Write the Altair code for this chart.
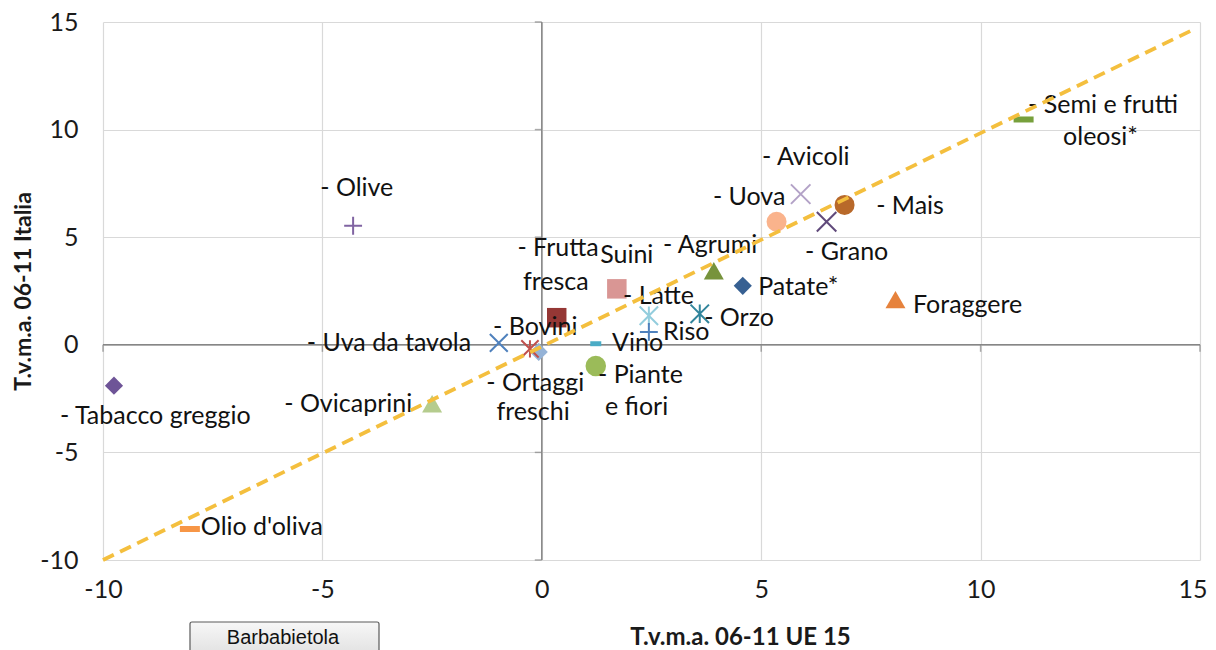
import altair as alt
import pandas as pd

# ---- data ----
categories = ["Tabacco greggio", "Olio d'oliva", "Olive", "Ovicaprini", "Uva da tavola",
              "Bovini", "Ortaggi freschi", "Frutta fresca", "Suini", "Latte", "Riso",
              "Vino", "Piante e fiori", "Agrumi", "Orzo", "Patate*", "Uova", "Avicoli",
              "Grano", "Mais", "Foraggere", "Semi e frutti oleosi*"]
ue15 = [-9.75, -8.02, -4.30, -2.50, -0.98, -0.27, -0.07, 0.34, 1.71, 2.44, 2.44,
        1.23, 1.23, 3.92, 3.60, 4.58, 5.35, 5.90, 6.49, 6.90, 8.06, 10.98]
italia = [-1.90, -8.56, 5.53, -2.74, 0.09, -0.19, -0.33, 1.26, 2.60, 1.35, 0.60,
          0.05, -0.98, 3.44, 1.44, 2.74, 5.72, 7.00, 5.72, 6.50, 2.10, 10.47]

# data labels (one entry per text line), anchored in data units
label_text = ["- Tabacco greggio", "Olio d'oliva", "- Olive", "- Ovicaprini", "- Uva da tavola",
              "- Bovini", "- Ortaggi", "freschi", "- Frutta", "fresca", "Suini", "- Latte",
              "Riso", "Vino", "- Piante", "e fiori", "- Agrumi", "- Orzo", "Patate*",
              "- Uova", "- Avicoli", "- Grano", "- Mais", "Foraggere", "- Semi e frutti", "oleosi*"]
label_x = [-10.98, -7.77, -5.05, -5.87, -1.61, -1.11, -0.15, -0.20, 0.37, 0.32, 1.33, 1.85,
           2.76, 1.60, 1.28, 1.44, 2.76, 3.70, 4.93, 3.90, 5.02, 6.00, 7.62, 8.46, 14.50, 11.88]
label_y = [-3.31, -8.47, 7.29, -2.75, 0.08, 0.83, -1.78, -3.12, 4.50, 2.92, 4.17, 2.27,
           0.59, 0.08, -1.40, -2.89, 4.64, 1.25, 2.69, 6.87, 8.73, 4.31, 6.45, 1.85, 11.14, 9.66]
label_align = ["left", "left", "left", "left", "right", "left", "center", "center", "center",
               "center", "left", "left", "left", "left", "left", "left", "left", "left", "left",
               "left", "left", "left", "left", "left", "right", "left"]

# dashed diagonal (trend) line ends
trend_x = [-10.0, 14.9]
trend_y = [-10.0, 14.7]

axis_ticks = [-10, -5, 0, 5, 10, 15]

# ---- marker styles (Excel-like markers) ----
X_PATH = "M-1,-1L1,1M-1,1L1,-1"
PLUS_PATH = "M-1,0L1,0M0,-1L0,1"
STAR_PATH = "M-1,-1L1,1M-1,1L1,-1M0,-1L0,1"
DASH_PATH = "M-1,-0.3L1,-0.3L1,0.3L-1,0.3Z"
SMALL_DASH_PATH = "M-1,-0.45L1,-0.45L1,0.45L-1,0.45Z"

styles = {
    "Tabacco greggio": ("diamond", "#6E5497", True, 330),
    "Olio d'oliva": (DASH_PATH, "#F79646", True, 400),
    "Olive": (PLUS_PATH, "#8064A2", False, 320),
    "Ovicaprini": ("triangle-up", "#B5CC8E", True, 400),
    "Uva da tavola": (X_PATH, "#4F81BD", False, 320),
    "Bovini": (STAR_PATH, "#C0504D", False, 300),
    "Ortaggi freschi": ("diamond", "#95B3D7", True, 330),
    "Frutta fresca": ("square", "#953735", True, 380),
    "Suini": ("square", "#D99694", True, 380),
    "Latte": (STAR_PATH, "#93CDDD", False, 340),
    "Riso": (PLUS_PATH, "#4F81BD", False, 320),
    "Vino": (SMALL_DASH_PATH, "#4BACC6", True, 121),
    "Piante e fiori": ("circle", "#9BBB59", True, 420),
    "Agrumi": ("triangle-up", "#77933C", True, 400),
    "Orzo": (STAR_PATH, "#31859C", False, 340),
    "Patate*": ("diamond", "#376092", True, 330),
    "Uova": ("circle", "#FAB38C", True, 400),
    "Avicoli": (X_PATH, "#B3A2C7", False, 380),
    "Grano": (X_PATH, "#604A7B", False, 380),
    "Mais": ("circle", "#B8692A", True, 400),
    "Foraggere": ("triangle-up", "#E6823C", True, 400),
    "Semi e frutti oleosi*": (DASH_PATH, "#77A03C", True, 400),
}

pts = pd.DataFrame({"cat": categories, "x": ue15, "y": italia})
pts["shape"] = [styles[c][0] for c in categories]
pts["color"] = [styles[c][1] for c in categories]
pts["filled"] = [styles[c][2] for c in categories]
pts["size"] = [styles[c][3] for c in categories]

labels = pd.DataFrame({"text": label_text, "x": label_x, "y": label_y, "align": label_align})
trend = pd.DataFrame({"x": trend_x, "y": trend_y})
ticks = pd.DataFrame({"v": axis_ticks, "zero": [0] * len(axis_ticks)})

FONT = "Lato"
FS = 25
DOM = [-10, 15]

xscale = alt.Scale(domain=DOM, nice=False, zero=False)
yscale = alt.Scale(domain=DOM, nice=False, zero=False)

x_axis = alt.Axis(values=axis_ticks, grid=True, gridColor="#D9D9D9", gridWidth=1.2,
                  domain=False, ticks=False, labelFont=FONT, labelFontSize=FS,
                  labelColor="#1a1a1a", labelPadding=17, labelFlush=False,
                  labelExpr="datum.value + ''",
                  labelAlign={"condition": {"test": "datum.value == 15", "value": "right"},
                              "value": "center"},
                  labelOffset={"condition": {"test": "datum.value == 15", "value": 7},
                               "value": 0},
                  title="T.v.m.a. 06-11 UE 15", titleFont=FONT, titleFontSize=24,
                  titleFontWeight="bold", titleColor="#1a1a1a",
                  titleX=637, titleY=77, titleBaseline="middle", titleAlign="center")
y_axis = alt.Axis(values=axis_ticks, grid=True, gridColor="#D9D9D9", gridWidth=1.2,
                  domain=False, ticks=False, labelFont=FONT, labelFontSize=FS,
                  labelColor="#1a1a1a", labelPadding=25, labelFlush=False,
                  labelExpr="datum.value + ''",
                  title="T.v.m.a. 06-11 Italia", titleFont=FONT, titleFontSize=23,
                  titleFontWeight="bold", titleColor="#1a1a1a",
                  titleX=-80, titleY=269, titleBaseline="middle", titleAlign="center",
                  titleAngle=270)


def X(field):
    return alt.X(field, scale=xscale, axis=x_axis, title="T.v.m.a. 06-11 UE 15")


def Y(field):
    return alt.Y(field, scale=yscale, axis=y_axis, title="T.v.m.a. 06-11 Italia")


zero_v = alt.Chart(ticks.head(1)).mark_rule(color="#868686", strokeWidth=1.5).encode(
    x=X("zero:Q"))
zero_h = alt.Chart(ticks.head(1)).mark_rule(color="#868686", strokeWidth=1.5).encode(
    y=Y("zero:Q"))

ticks_h = alt.Chart(ticks).mark_tick(orient="vertical", color="#868686", size=7,
                                      thickness=1.5, yOffset=3.5).encode(
    x=X("v:Q"), y=Y("zero:Q"))
ticks_v = alt.Chart(ticks).mark_tick(orient="horizontal", color="#868686", size=7,
                                      thickness=1.5, xOffset=-3.5).encode(
    y=Y("v:Q"), x=X("zero:Q"))

filled_pts = alt.Chart(pts[pts["filled"]]).mark_point(filled=True, opacity=1, strokeWidth=0).encode(
    x=X("x:Q"), y=Y("y:Q"),
    shape=alt.Shape("shape:N", scale=None),
    color=alt.Color("color:N", scale=None),
    size=alt.Size("size:Q", scale=None),
)
stroked_pts = alt.Chart(pts[~pts["filled"]]).mark_point(filled=False, opacity=1, strokeWidth=2).encode(
    x=X("x:Q"), y=Y("y:Q"),
    shape=alt.Shape("shape:N", scale=None),
    color=alt.Color("color:N", scale=None),
    size=alt.Size("size:Q", scale=None),
)

label_layers = []
for al in ["left", "center", "right"]:
    sub = labels[labels["align"] == al]
    label_layers.append(
        alt.Chart(sub).mark_text(align=al, baseline="middle", font=FONT, fontSize=FS,
                                 color="#111111").encode(
            x=X("x:Q"), y=Y("y:Q"), text="text:N",
        )
    )

trend_line = alt.Chart(trend).mark_line(color="#F4BF3E", strokeWidth=3.8,
                                        strokeDash=[12, 7]).encode(
    x=X("x:Q"), y=Y("y:Q"),
)

box_df = pd.DataFrame({"label": ["Barbabietola"]})
box = alt.Chart(box_df).mark_rect(
    fill=alt.Gradient(gradient="linear", x1=0, y1=0, x2=0, y2=1,
                      stops=[alt.GradientStop(offset=0, color="#F7F7F7"),
                             alt.GradientStop(offset=1, color="#D6D6D6")]),
    stroke="#5A5A5A", strokeWidth=1.2, cornerRadius=2,
).encode(x=alt.value(87), x2=alt.value(276), y=alt.value(600), y2=alt.value(650))
box_text = alt.Chart(box_df).mark_text(font="Liberation Sans", fontSize=20,
                                       color="#111111", baseline="middle").encode(
    x=alt.value(180), y=alt.value(616), text="label:N")

chart = alt.layer(
    zero_v, zero_h, ticks_h, ticks_v, filled_pts, stroked_pts,
    *label_layers, trend_line, box, box_text
).properties(
    width=1097, height=538,
    padding={"left": 95, "top": 14, "right": 8, "bottom": 90},
    autosize=alt.AutoSizeParams(type="none"),
    background="white",
).configure_view(stroke=None)

chart.save("out.html", embed_options={"renderer": "svg", "actions": False})
